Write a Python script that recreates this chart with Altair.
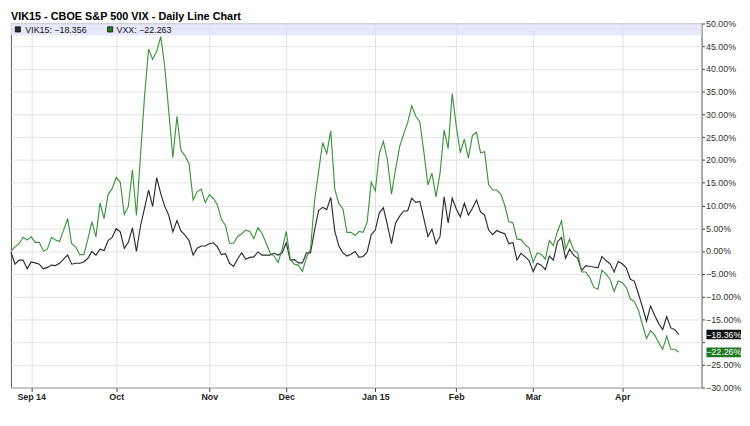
import altair as alt
import pandas as pd

title_text = "VIK15 - CBOE S&P 500 VIX - Daily Line Chart"
series_names = ["VIK15", "VXX"]

vik15 = [-0.2, -2.9, -2.0, -2.0, -3.9, -2.4, -2.6, -2.9, -3.9, -3.6,
         -3.1, -3.2, -2.7, -1.8, -0.9, -2.9, -2.7, -2.7, -2.4, -1.6,
         -0.1, -0.9, 0.4, 0.1, 2.3, 3.0, 4.9, 4.2, 0.6, 1.9,
         5.1, -0.1, 5.5, 9.4, 13.4, 9.8, 16.1, 12.6, 9.8, 7.8,
         4.2, 6.7, 4.4, 3.5, 2.3, -0.9, 0.6, 1.1, 1.1, 1.6,
         1.8, 0.9, -0.8, -0.6, -2.7, -3.4, -1.7, -0.4, -1.8, -1.4,
         -1.3, -0.2, -0.9, -0.9, -0.9, -0.5, -0.9, -0.4, 1.8, -2.0,
         -1.9, -2.6, -2.6, -0.4, -0.4, 4.6, 8.9, 9.6, 9.1, 11.8,
         4.3, 1.1, -0.4, -1.1, -0.7, -0.1, -1.4, -1.2, -0.2, 3.6,
         4.6, 8.4, 9.5, 5.7, 1.6, 6.1, 7.6, 8.8, 8.8, 11.6,
         10.7, 10.9, 7.1, 3.2, 4.8, 1.6, 3.2, 11.9, 6.2, 11.6,
         9.3, 7.5, 10.5, 7.9, 9.4, 11.2, 8.6, 7.9, 4.6, 3.6,
         4.5, 4.1, 3.8, 1.6, 1.9, -2.0, -0.5, -1.3, -2.1, -4.5,
         -2.7, -3.1, -4.1, -1.1, -2.0, 2.0, 3.0, -1.6, 0.4, -0.9,
         -1.6, -4.3, -3.2, -3.4, -3.5, -3.7, -1.2, -2.1, -2.8, -4.6,
         -2.3, -2.8, -3.7, -6.2, -6.6, -9.4, -12.3, -15.4, -12.1, -14.1,
         -15.9, -17.3, -14.4, -16.9, -17.3, -18.356]

vxx = [0.0, 0.9, 1.6, 3.0, 2.4, 3.1, 1.9, 1.9, 0.0, 0.4,
       3.0, 2.4, 2.1, 4.6, 7.1, 1.6, 0.9, -0.8, -0.8, 2.6,
       6.4, 3.1, 10.6, 7.1, 12.4, 13.7, 16.2, 15.1, 8.0, 9.8,
       17.8, 7.8, 21.0, 34.0, 44.4, 42.1, 43.9, 47.1, 40.5, 30.5,
       20.5, 29.6, 22.1, 20.9, 19.2, 11.2, 13.0, 13.6, 10.6, 12.4,
       11.6, 10.1, 6.9, 5.6, 1.7, 1.7, 3.2, 3.8, 4.6, 4.3,
       2.7, 5.1, 3.9, 1.8, -0.4, -1.1, -2.5, 0.4, 4.3, -1.8,
       -2.9, -3.1, -4.5, -1.4, 0.4, 11.1, 17.5, 23.8, 21.4, 26.4,
       13.6, 10.4, 9.3, 4.1, 4.1, 3.4, 4.3, 4.1, 6.4, 15.2,
       13.2, 21.4, 24.1, 20.0, 12.5, 17.9, 22.9, 25.7, 28.2, 31.9,
       29.6, 28.4, 21.8, 14.5, 17.1, 11.9, 17.1, 26.6, 22.5, 34.6,
       27.5, 21.6, 24.6, 20.4, 25.4, 26.1, 21.6, 21.8, 14.6, 13.4,
       13.4, 12.5, 10.0, 6.4, 6.2, 2.6, 2.5, 1.4, 0.7, -2.5,
       -0.4, -0.7, -1.8, 2.3, 1.2, 4.3, 6.6, 0.4, 2.6, 0.2,
       -0.4, -4.6, -4.6, -5.9, -8.0, -8.4, -4.2, -5.1, -6.2, -8.9,
       -6.6, -6.9, -8.0, -10.5, -11.1, -13.0, -16.2, -19.2, -17.5, -18.4,
       -20.1, -21.6, -18.7, -21.6, -21.6, -22.263]

month_ticks = [5, 26, 49, 68, 90, 110, 129, 151]
month_labels = ["Sep 14", "Oct", "Nov", "Dec", "Jan 15", "Feb", "Mar", "Apr"]
y_ticks = list(range(-30, 55, 5))
hidden_y_labels = [-20]
legend_texts = ["VIK15: \u221218.356", "VXX: \u221222.263"]
end_labels = ["\u221218.36%", "\u221222.26%"]

line_colors = ["#2b2b2b", "#3a963a"]
box_colors = ["#111111", "#1f7a1f"]
FONT = "Liberation Sans"

W, H = 700, 369
x_domain = [0, 170.6]

rows = []
for name, vals in zip(series_names, [vik15, vxx]):
    for i, v in enumerate(vals):
        rows.append({"day": i, "value": v, "series": name})
df = pd.DataFrame(rows)

ticks_js = "[" + ",".join(str(t) for t in month_ticks) + "]"
labels_js = "[" + ",".join("'" + l + "'" for l in month_labels) + "]"
x_label_expr = labels_js + "[indexof(" + ticks_js + ", datum.value)]"
hidden_js = "[" + ",".join(str(h) for h in hidden_y_labels) + "]"
y_label_expr = ("indexof(" + hidden_js + ", datum.value) >= 0 ? '' : "
                "format(datum.value, '.2f') + '%'")

x_enc = alt.X(
    "day:Q",
    scale=alt.Scale(domain=x_domain, nice=False, zero=False),
    axis=alt.Axis(values=month_ticks, labelExpr=x_label_expr, title=None,
                  orient="bottom", grid=True, gridColor="#E2E2E2", domain=False,
                  tickSize=4, tickColor="#444", labelPadding=1,
                  labelFont=FONT, labelFontSize=9, labelFontWeight="bold",
                  labelColor="#222", labelFlush=False, labelOverlap=False),
)
y_axis = alt.Axis(values=y_ticks, labelExpr=y_label_expr, title=None,
                  orient="right", grid=True, gridColor="#E2E2E2", domain=False,
                  tickSize=3, tickColor="#444", labelPadding=1,
                  labelFont=FONT, labelFontSize=9, labelColor="#333",
                  labelFlush=False, labelOverlap=False)
y_scale = alt.Scale(domain=[-30, 50], nice=False, zero=False)
y_enc = alt.Y("value:Q", scale=y_scale, axis=y_axis)

band = alt.Chart(pd.DataFrame({"k": [0]})).mark_rect(
    color="#E4E4FA", opacity=0.85
).encode(x=alt.value(0), x2=alt.value(W), y=alt.value(0), y2=alt.value(12))

lines = alt.Chart(df).mark_line(strokeWidth=1.15).encode(
    x=x_enc,
    y=y_enc,
    color=alt.Color("series:N", scale=alt.Scale(domain=series_names, range=line_colors),
                    legend=None),
)

legend_layers = []
sq_x = [7, 100.5]
tx_x = [14.5, 107]
for k in range(2):
    legend_layers.append(
        alt.Chart(pd.DataFrame({"k": [0]})).mark_square(
            size=28, fill=line_colors[k] if k == 0 else box_colors[k],
            stroke="#000", strokeWidth=0.7, opacity=1
        ).encode(x=alt.value(sq_x[k]), y=alt.value(6))
    )
    legend_layers.append(
        alt.Chart(pd.DataFrame({"t": [legend_texts[k]]})).mark_text(
            align="left", baseline="middle", font=FONT, fontSize=9, color="#111"
        ).encode(x=alt.value(tx_x[k]), y=alt.value(6.5), text="t:N")
    )

end_df = pd.DataFrame({"value": [vik15[-1], vxx[-1]], "label": end_labels,
                       "series": series_names})
box_path = "M-1,-0.28L1,-0.28L1,0.28L-1,0.28Z"
end_boxes = alt.Chart(end_df).mark_point(
    shape=box_path, filled=True, size=1225, opacity=1
).encode(
    x=alt.value(W + 22.5),
    y=y_enc,
    color=alt.Color("series:N", scale=alt.Scale(domain=series_names, range=box_colors),
                    legend=None),
)
end_text = alt.Chart(end_df).mark_text(
    align="center", baseline="middle", font=FONT, fontSize=9, color="white"
).encode(x=alt.value(W + 22.5), y=y_enc, text="label:N")

chart = alt.layer(band, lines, *legend_layers, end_boxes, end_text).resolve_scale(
    color="independent"
).properties(
    width=W,
    height=H,
    padding={"left": 0, "right": 0, "top": 0, "bottom": 0},
    background="white",
    title=alt.TitleParams(text=title_text, anchor="start", font=FONT, fontSize=11,
                          fontWeight="bold", color="#000", offset=-2, frame="group"),
).configure_view(stroke="#555", strokeWidth=1)

chart.save("out.html", embed_options={"renderer": "svg", "actions": False})
